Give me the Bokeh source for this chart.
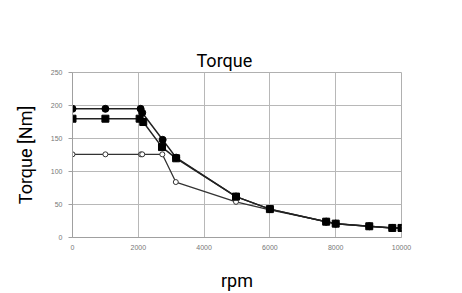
from bokeh.plotting import figure
from bokeh.models import Range1d, FixedTicker, Title
from bokeh.embed import file_html
from bokeh.resources import INLINE

rpm_a = [0, 1000, 2070, 2120, 2740, 3150, 4970, 6000, 7710, 8000, 9020, 9720, 10000]
torque_a = [195, 195, 195, 189, 148, 121, 62, 43, 24, 21, 17, 14.5, 14.5]
rpm_b = [0, 1000, 2040, 2150, 2720, 3150, 4970, 6000, 7710, 8000, 9020, 9720, 10000]
torque_b = [180, 180, 180, 175, 137, 120, 62, 43, 24, 21, 17, 14.5, 14.5]
rpm_c = [0, 1000, 2080, 2120, 2730, 3140, 4970, 6000, 7710, 8000, 9020, 9720, 10000]
torque_c = [126, 126, 126, 126, 126, 84, 54, 42, 24, 21, 17, 14.5, 14.5]
x_ticks = [0, 2000, 4000, 6000, 8000, 10000]
y_ticks = [0, 50, 100, 150, 200, 250]

FONT = "Roboto"

p = figure(width=460, height=293, output_backend="svg", toolbar_location=None,
           x_range=Range1d(0, 10000), y_range=Range1d(0, 250),
           min_border_left=72, min_border_right=59, min_border_top=72, min_border_bottom=56)
p.outline_line_color = "#b0b0b0"
p.background_fill_color = "white"
p.border_fill_color = "white"

for ax in (p.xaxis, p.yaxis):
    ax.axis_line_color = "#a0a0a0"
    ax.major_tick_line_color = "#a0a0a0"
    ax.minor_tick_line_color = None
    ax.major_label_text_font = "Liberation Sans"
    ax.major_label_text_font_size = "7px"
    ax.major_label_text_color = "#777777"
p.xaxis.ticker = FixedTicker(ticks=x_ticks)
p.yaxis.ticker = FixedTicker(ticks=y_ticks)
p.xaxis.major_tick_out = 0
p.xaxis.major_tick_in = 0
p.yaxis.major_tick_out = 4
p.yaxis.major_tick_in = 0
p.xaxis.major_label_standoff = 7
p.yaxis.major_label_standoff = 6
p.xgrid.grid_line_color = "#b8b8b8"
p.ygrid.grid_line_color = "#b8b8b8"

p.xaxis.axis_label = "rpm"
p.xaxis.axis_label_text_font = FONT
p.xaxis.axis_label_text_font_size = "18px"
p.xaxis.axis_label_text_font_style = "normal"
p.xaxis.axis_label_text_color = "black"
p.xaxis.axis_label_standoff = 17
p.yaxis.axis_label = "Torque [Nm]"
p.yaxis.axis_label_text_font = FONT
p.yaxis.axis_label_text_font_size = "18px"
p.yaxis.axis_label_text_font_style = "normal"
p.yaxis.axis_label_text_color = "black"
p.yaxis.axis_label_standoff = 12

p.line(rpm_c, torque_c, line_color="#333333", line_width=1.3)
p.scatter(rpm_c, torque_c, marker="circle", size=5, fill_color="white", line_color="#333333", line_width=1)
p.line(rpm_a, torque_a, line_color="#222222", line_width=1.5)
p.scatter(rpm_a, torque_a, marker="circle", size=7, fill_color="black", line_color="black")
p.line(rpm_b, torque_b, line_color="#222222", line_width=1.5)
p.scatter(rpm_b, torque_b, marker="square", size=7, fill_color="black", line_color="black")

# invisible spacer (default title, nearest the frame), real title stacked above it
p.title.text = "x"
p.title.text_alpha = 0
p.title.standoff = 19
p.title.vertical_align = "top"
p.title.text_font = FONT
p.title.text_font_size = "18px"
p.title.text_font_style = "normal"
title = Title(text="Torque", align="left", offset=124, standoff=0, vertical_align="top",
              text_font=FONT, text_font_size="18px", text_font_style="normal", text_color="black")
p.add_layout(title, "above")

open("out.html", "w").write(file_html(p, INLINE))
